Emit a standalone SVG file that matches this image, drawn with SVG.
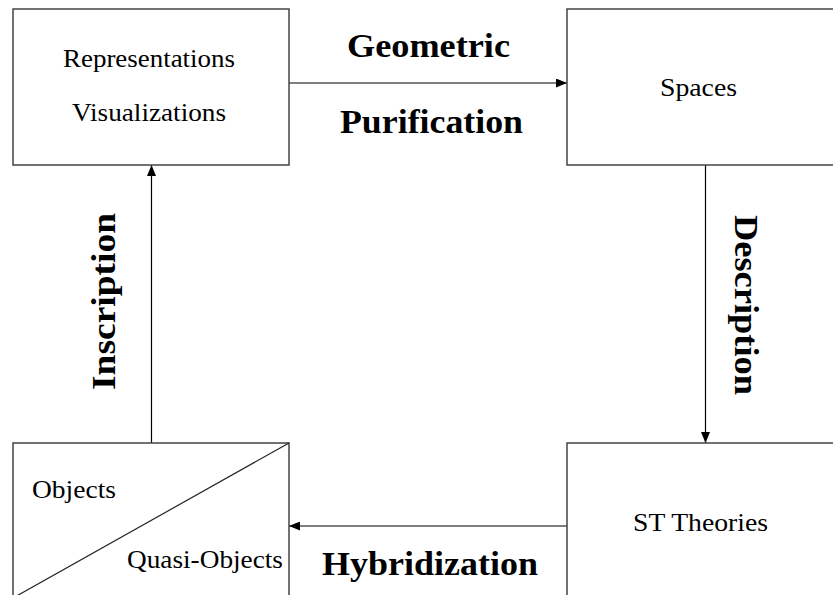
<svg xmlns="http://www.w3.org/2000/svg" width="833" height="595" viewBox="0 0 833 595">
<style>
.box{fill:#fff;stroke:#444;stroke-width:1.5}
.conn{stroke:#000;stroke-width:1.2;fill:none}
.t{font-family:"Liberation Serif","Times New Roman",serif;font-size:25px;fill:#000}
.b{font-family:"Liberation Serif","Times New Roman",serif;font-size:34px;font-weight:bold;fill:#000}
</style>
<defs>
<marker id="ah" viewBox="0 0 11 9" refX="11" refY="4.5" markerWidth="11" markerHeight="9" markerUnits="userSpaceOnUse" orient="auto">
<path d="M0,0 L11,4.5 L0,9 Z" fill="#000"/>
</marker>
</defs>
<rect width="833" height="595" fill="#fff"/>
<g id="connectors">
<line class="conn" x1="289" y1="83" x2="567" y2="83" marker-end="url(#ah)"/>
<line class="conn" x1="705.5" y1="165" x2="705.5" y2="443" marker-end="url(#ah)"/>
<line class="conn" x1="567" y1="526" x2="289" y2="526" marker-end="url(#ah)"/>
<line class="conn" x1="151.5" y1="443" x2="151.5" y2="165" marker-end="url(#ah)"/>
<text class="b" x="428.5" y="57" text-anchor="middle" textLength="163" lengthAdjust="spacingAndGlyphs">Geometric</text>
<text class="b" x="431.5" y="133" text-anchor="middle" textLength="183" lengthAdjust="spacingAndGlyphs">Purification</text>
<text class="b" transform="translate(735,305) rotate(90)" text-anchor="middle" textLength="180" lengthAdjust="spacingAndGlyphs">Description</text>
<text class="b" x="430" y="575" text-anchor="middle" textLength="216" lengthAdjust="spacingAndGlyphs">Hybridization</text>
<text class="b" transform="translate(115,301.5) rotate(-90)" text-anchor="middle" textLength="177" lengthAdjust="spacingAndGlyphs">Inscription</text>
</g>
<g id="node-representations">
<rect class="box" x="13" y="9" width="276" height="156"/>
<text class="t" x="149" y="67" text-anchor="middle" textLength="172" lengthAdjust="spacingAndGlyphs">Representations</text>
<text class="t" x="149" y="121" text-anchor="middle" textLength="154" lengthAdjust="spacingAndGlyphs">Visualizations</text>
</g>
<g id="node-spaces">
<rect class="box" x="567" y="9" width="290" height="156"/>
<text class="t" x="698.5" y="96" text-anchor="middle" textLength="77" lengthAdjust="spacingAndGlyphs">Spaces</text>
</g>
<g id="node-st-theories">
<rect class="box" x="567" y="443" width="290" height="170"/>
<text class="t" x="700.5" y="531" text-anchor="middle" textLength="135" lengthAdjust="spacingAndGlyphs">ST Theories</text>
</g>
<g id="node-objects">
<rect class="box" x="13" y="443" width="276" height="170"/>
<line x1="289" y1="443" x2="13" y2="598" stroke="#222" stroke-width="1.2"/>
<text class="t" x="32" y="498" textLength="84" lengthAdjust="spacingAndGlyphs">Objects</text>
<text class="t" x="127" y="568" textLength="156" lengthAdjust="spacingAndGlyphs">Quasi-Objects</text>
</g>
</svg>
